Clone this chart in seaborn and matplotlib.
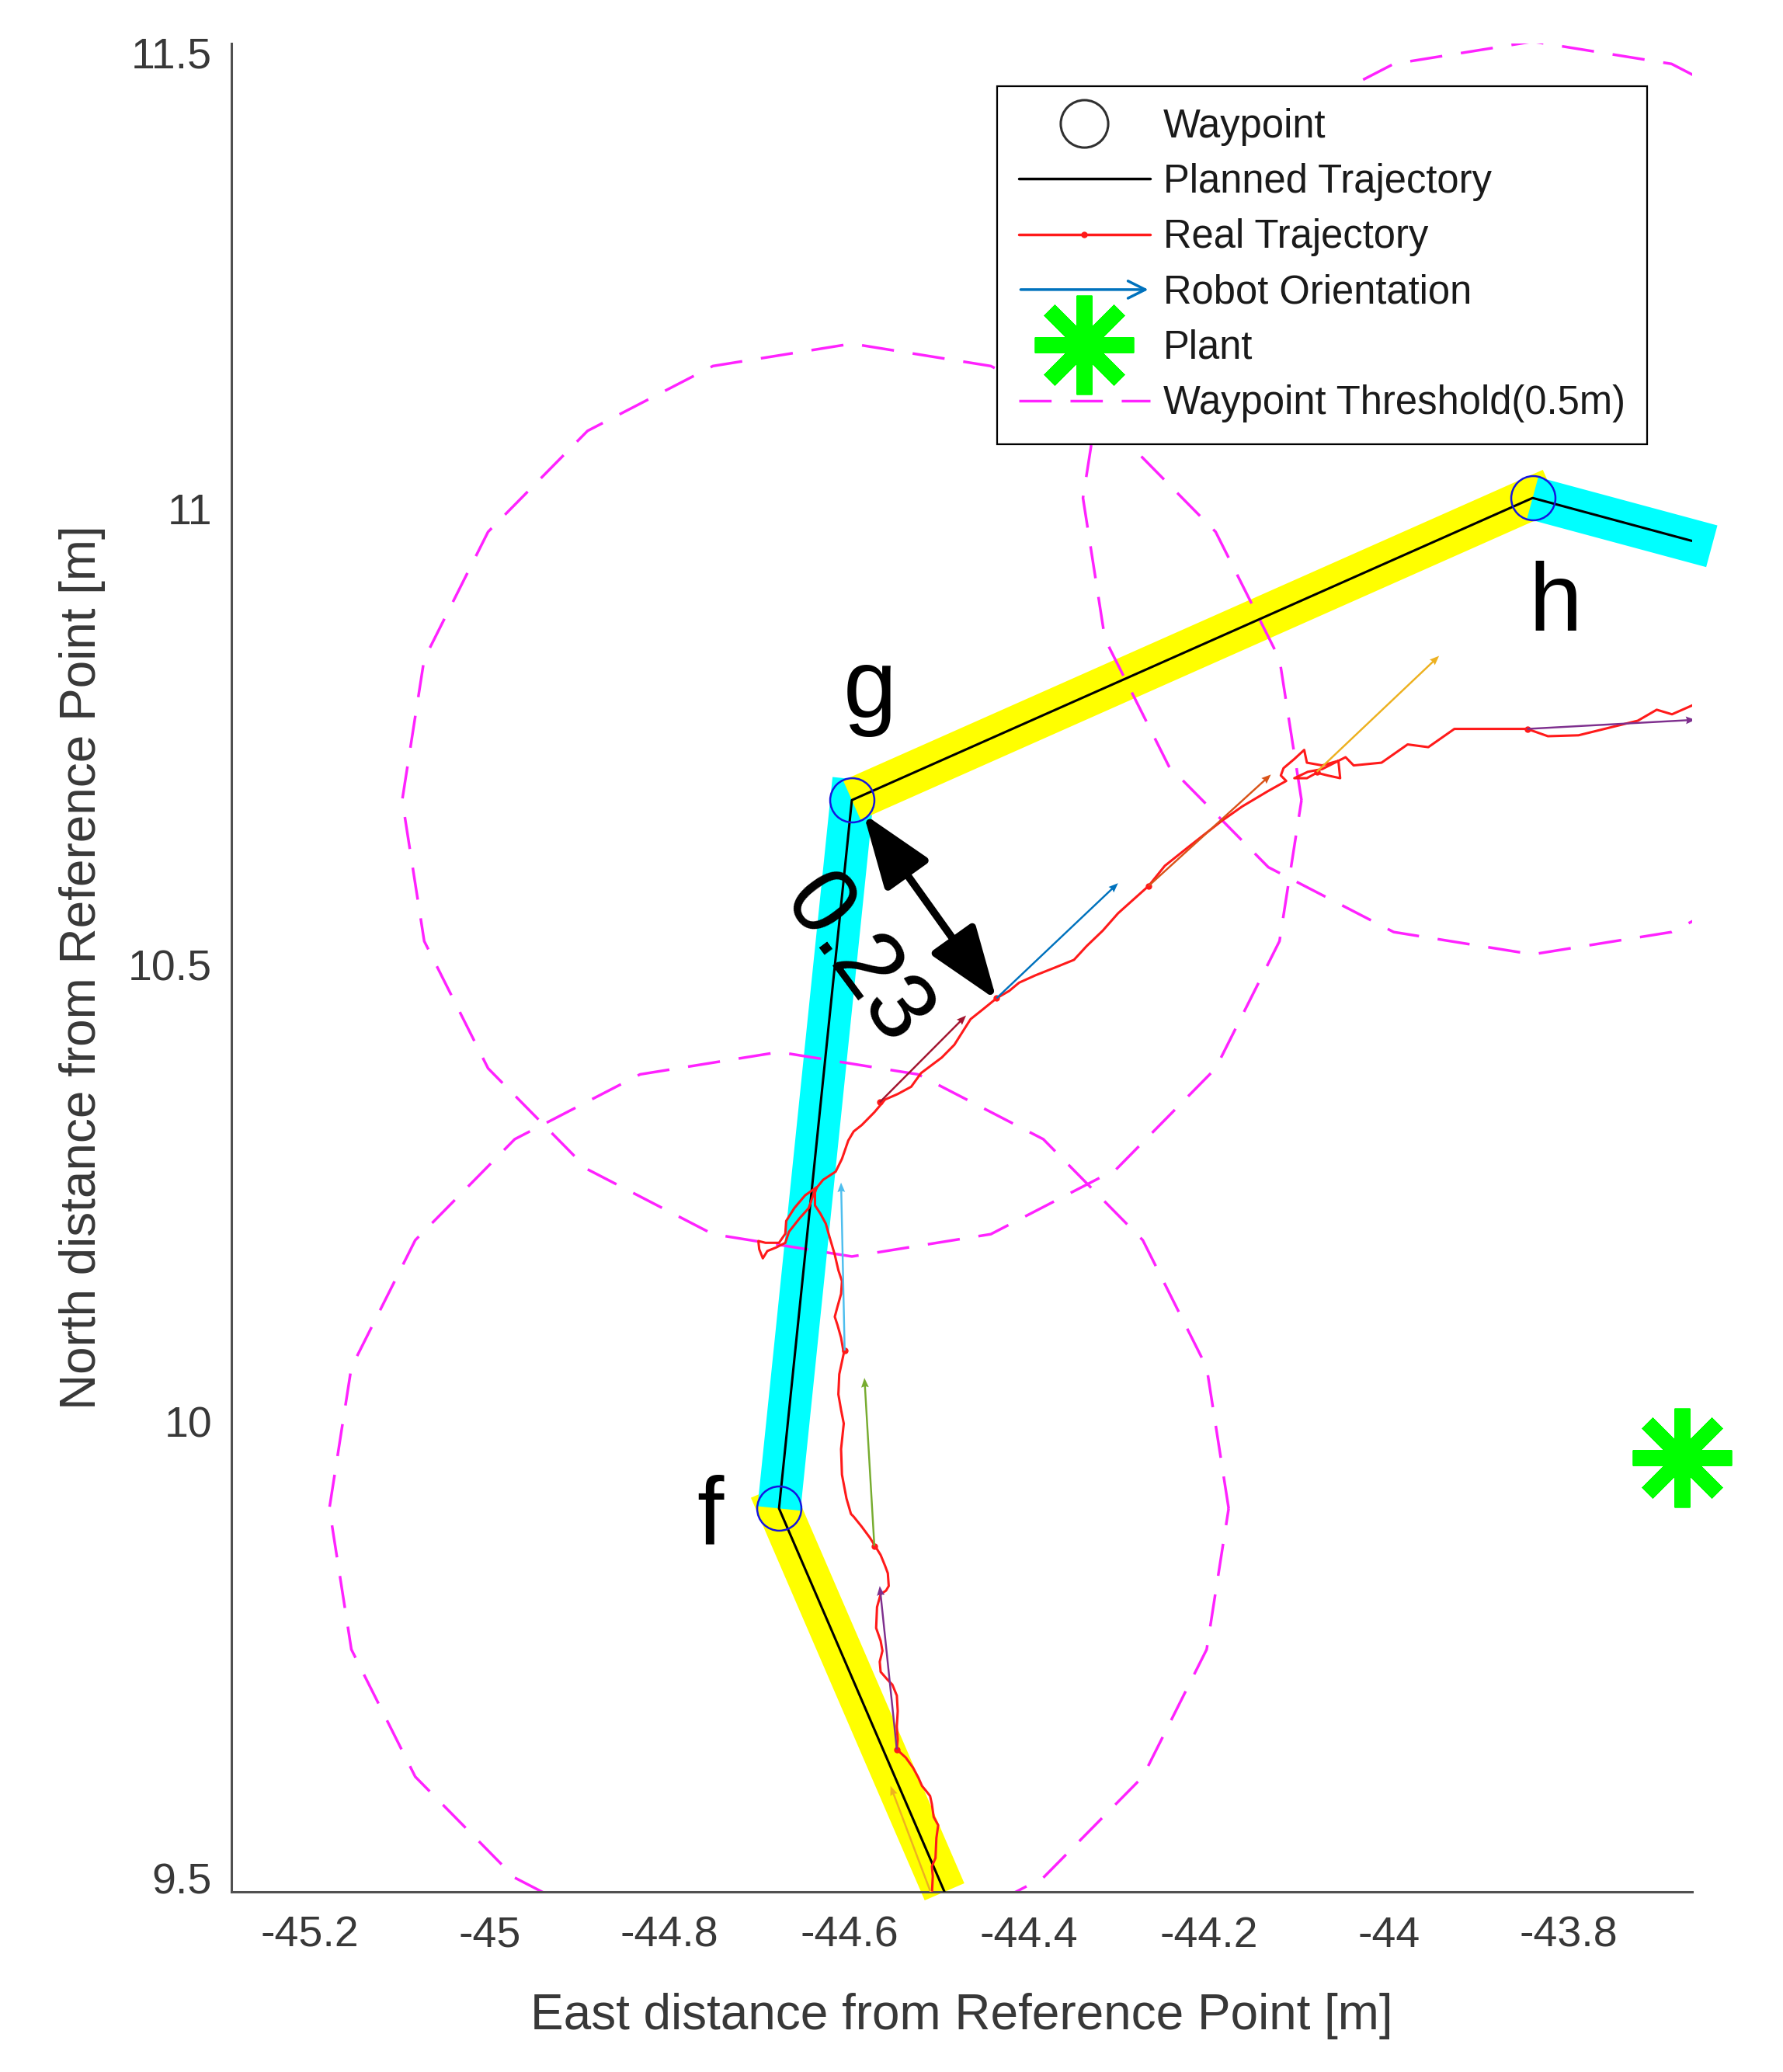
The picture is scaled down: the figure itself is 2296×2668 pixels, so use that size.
import numpy as np
import matplotlib
matplotlib.use("Agg")
import matplotlib.pyplot as plt
import seaborn as sns
from matplotlib.lines import Line2D
from matplotlib.patches import FancyArrowPatch
from matplotlib.legend_handler import HandlerPatch

# ---------------- data ----------------
# planned trajectory waypoints (e is off-axis at the bottom, i off-axis at the right)
wp_x = [-44.494, -44.678, -44.597, -43.840, -43.663]
wp_y = [9.485, 9.905, 10.681, 11.012, 10.965]
band_colors = ["#FFFF00", "#00FFFF", "#FFFF00", "#00FFFF"]
threshold_radius = 0.5

label_text = ["f", "g", "h"]
label_x = [-44.755, -44.577, -43.815]
label_y = [9.866, 10.772, 10.867]

real_x = [-44.500, -44.508, -44.507, -44.508, -44.504, -44.503, -44.501, -44.506, -44.508, -44.510,
          -44.514, -44.519, -44.523, -44.529, -44.537, -44.547, -44.546, -44.547, -44.546, -44.547,
          -44.552, -44.557, -44.565, -44.566, -44.563, -44.565, -44.570, -44.569, -44.565, -44.559,
          -44.556, -44.557, -44.560, -44.565, -44.570, -44.577, -44.586, -44.595,
          -44.598, -44.603, -44.608, -44.609, -44.606, -44.609, -44.612, -44.611, -44.606, -44.609,
          -44.613, -44.616, -44.613, -44.609, -44.608, -44.612, -44.616, -44.622, -44.626, -44.632,
          -44.638, -44.638, -44.636, -44.649, -44.661, -44.670, -44.671, -44.678, -44.693, -44.701,
          -44.700, -44.696, -44.691, -44.681, -44.671, -44.667, -44.655, -44.645, -44.638, -44.629,
          -44.615, -44.608, -44.601, -44.595, -44.586,
          -44.572, -44.560, -44.546, -44.531, -44.520, -44.497, -44.483, -44.474, -44.465, -44.451,
          -44.436, -44.422, -44.411, -44.393, -44.370, -44.350, -44.336, -44.318, -44.301, -44.284,
          -44.267, -44.249, -44.221, -44.186, -44.163, -44.134, -44.114, -44.120, -44.117, -44.105,
          -44.094, -44.091, -44.074, -44.056, -44.054, -44.068, -44.080, -44.091, -44.105, -44.090,
          -44.074, -44.054, -44.048, -44.039, -44.008, -43.979, -43.956, -43.927, -43.846, -43.823,
          -43.789, -43.760, -43.723, -43.702, -43.685, -43.662]
real_y = [9.440, 9.482, 9.502, 9.513, 9.522, 9.544, 9.558, 9.567, 9.581, 9.590,
          9.595, 9.601, 9.610, 9.621, 9.632, 9.641, 9.652, 9.666, 9.683, 9.700,
          9.712, 9.717, 9.726, 9.737, 9.749, 9.760, 9.774, 9.797, 9.811, 9.815,
          9.820, 9.834, 9.842, 9.854, 9.862, 9.873, 9.885, 9.896,
          9.899, 9.916, 9.942, 9.970, 9.998, 10.013, 10.030, 10.052, 10.075, 10.092,
          10.106, 10.115, 10.126, 10.140, 10.154, 10.166, 10.183, 10.203, 10.217, 10.228,
          10.237, 10.251, 10.257, 10.248, 10.234, 10.220, 10.206, 10.196, 10.196, 10.198,
          10.189, 10.179, 10.187, 10.191, 10.196, 10.208, 10.223, 10.234, 10.254, 10.265,
          10.274, 10.288, 10.308, 10.318, 10.325,
          10.339, 10.353, 10.359, 10.367, 10.382, 10.399, 10.413, 10.427, 10.441, 10.452,
          10.464, 10.472, 10.481, 10.489, 10.498, 10.506, 10.521, 10.538, 10.557, 10.572,
          10.587, 10.609, 10.631, 10.658, 10.674, 10.691, 10.702, 10.708, 10.716, 10.726,
          10.736, 10.722, 10.719, 10.724, 10.705, 10.708, 10.711, 10.705, 10.705, 10.712,
          10.715, 10.725, 10.728, 10.719, 10.722, 10.742, 10.739, 10.759, 10.759, 10.751,
          10.752, 10.759, 10.768, 10.780, 10.775, 10.785]

# robot orientation arrows (base + heading vector), MATLAB default colour order
arrow_x = [-44.488, -44.547, -44.572, -44.605, -44.566, -44.436, -44.267, -44.080, -43.846]
arrow_y = [9.429, 9.641, 9.864, 10.078, 10.350, 10.464, 10.587, 10.712, 10.759]
arrow_u = [-0.066, -0.019, -0.011, -0.004, 0.096, 0.135, 0.136, 0.136, 0.187]
arrow_v = [0.172, 0.179, 0.184, 0.184, 0.095, 0.126, 0.122, 0.127, 0.010]
arrow_colors = ["#EDB120", "#7E2F8E", "#77AC30", "#4DBEEE", "#A2142F",
                "#0072BD", "#D95319", "#EDB120", "#7E2F8E"]

plant_x = [-43.674]
plant_y = [9.961]

dist_start = (-44.584, 10.666)
dist_end = (-44.436, 10.462)
dist_text = "0.23"
dist_text_pos = (-44.593, 10.505)

x_ticks = [-45.2, -45.0, -44.8, -44.6, -44.4, -44.2, -44.0, -43.8]
x_ticklabels = ["-45.2", "-45", "-44.8", "-44.6", "-44.4", "-44.2", "-44", "-43.8"]
y_ticks = [9.5, 10.0, 10.5, 11.0, 11.5]
y_ticklabels = ["9.5", "10", "10.5", "11", "11.5"]

legend_labels = ["Waypoint", "Planned Trajectory", "Real Trajectory",
                 "Robot Orientation", "Plant", "Waypoint Threshold(0.5m)"]

# ---------------- style ----------------
sns.set_style("white")
plt.rcParams["font.family"] = ["Liberation Sans", "DejaVu Sans"]
plt.rcParams["axes.unicode_minus"] = False

RED = "#FF1A1A"
MAG = "#FF22FF"
DASH = (0, (12, 7))
GRAY = "#505050"
TXT = "#383838"

fig = plt.figure(figsize=(22.96, 26.68), dpi=100)
ax = fig.add_axes([0.12975, 0.08696, 0.8191, 0.8921])
ax.set_xlim(-45.287, -43.663)
ax.set_ylim(9.485, 11.51)

# highlight bands along planned segments
ext = 0.023
for k in range(len(wp_x) - 1):
    x0, y0, x1, y1 = wp_x[k], wp_y[k], wp_x[k + 1], wp_y[k + 1]
    d = np.hypot(x1 - x0, y1 - y0)
    ex, ey = (x1 - x0) / d * ext, (y1 - y0) / d * ext
    ax.plot([x0, x1 + ex], [y0, y1 + ey], color=band_colors[k], lw=40,
            solid_capstyle="butt", zorder=1, clip_on=False)

# waypoint threshold circles (polygonal, 20 segments)
theta = np.linspace(0, 2 * np.pi, 21)
for cx, cy in zip(wp_x[1:4], wp_y[1:4]):
    ax.plot(cx + threshold_radius * np.cos(theta), cy + threshold_radius * np.sin(theta),
            color=MAG, lw=2.5, ls=DASH, zorder=2)

# planned trajectory
sns.lineplot(x=wp_x, y=wp_y, sort=False, estimator=None, color="black", lw=2.2,
             ax=ax, zorder=3)

# real trajectory
sns.lineplot(x=real_x, y=real_y, sort=False, estimator=None, color=RED, lw=2.2,
             ax=ax, zorder=4)
ax.plot(arrow_x, arrow_y, ls="none", marker="o", ms=5, color=RED, zorder=4.5)

# robot orientation arrows
ax.quiver(arrow_x, arrow_y, arrow_u, arrow_v, color=arrow_colors, angles="xy",
          scale_units="xy", scale=1, width=0.0013, headwidth=4, headlength=5,
          headaxislength=4.5, zorder=5)

# waypoints
ax.plot(wp_x[1:4], wp_y[1:4], ls="none", marker="o", ms=41, mfc="none",
        mec="#1515E0", mew=1.8, zorder=6)

for t, x, y in zip(label_text, label_x, label_y):
    ax.text(x, y, t, fontsize=89, ha="center", va="baseline", color="black", zorder=7)

# distance annotation
ax.annotate("", xy=dist_end, xytext=dist_start,
            arrowprops=dict(arrowstyle="<|-|>,head_length=58,head_width=21",
                            mutation_scale=1, lw=7, color="black",
                            shrinkA=0, shrinkB=0), zorder=7)
ax.text(dist_text_pos[0], dist_text_pos[1], dist_text, fontsize=88, rotation=-53.4,
        rotation_mode="anchor", ha="center", va="center", color="black", zorder=7)

# plant
ax.plot(plant_x, plant_y, ls="none", marker=(8, 2, 0), ms=92, mew=14.4,
        color="#00FF00", clip_on=False, zorder=7)

# axes styling
for s in ["top", "right"]:
    ax.spines[s].set_visible(False)
for s in ["left", "bottom"]:
    ax.spines[s].set_color(GRAY)
    ax.spines[s].set_linewidth(2.2)
ax.set_xticks(x_ticks, labels=x_ticklabels)
ax.set_yticks(y_ticks, labels=y_ticklabels)
ax.tick_params(direction="in", length=16, width=1.6, colors=GRAY, labelcolor=TXT,
               labelsize=40)
ax.tick_params(axis="x", pad=22)
ax.tick_params(axis="y", pad=18)
ax.set_xlabel("East distance from Reference Point [m]", fontsize=46, color=TXT, va="center")
ax.set_ylabel("North distance from Reference Point [m]", fontsize=46, color=TXT, va="center")
ax.xaxis.set_label_coords(0.5, -0.0672)
ax.yaxis.set_label_coords(-0.1023, 0.5)


# legend
def make_arrow(legend, orig_handle, xdescent, ydescent, width, height, fontsize):
    return FancyArrowPatch((-xdescent, -ydescent + height / 2),
                           (-xdescent + width, -ydescent + height / 2),
                           arrowstyle="->", mutation_scale=40)


h_wp = Line2D([], [], ls="none", marker="o", ms=44, mfc="none", mec="#303030", mew=2.2)
h_plan = Line2D([], [], color="black", lw=2.5)
h_real = Line2D([], [], color=RED, lw=2.5, marker="o", ms=5)
h_arrow = FancyArrowPatch((0, 0), (1, 0), arrowstyle="->", mutation_scale=40,
                          lw=2.5, color="#0072BD")
h_plant = Line2D([], [], ls="none", marker=(8, 2, 0), ms=92, mew=14.4, color="#00FF00")
h_thr = Line2D([], [], color=MAG, lw=2.5, ls=DASH)

leg = ax.legend([h_wp, h_plan, h_real, h_arrow, h_plant, h_thr], legend_labels,
                loc="upper right", bbox_to_anchor=(0.9694, 0.9769), borderaxespad=0,
                fontsize=36.5, handlelength=3.35, handletextpad=0.33, borderpad=0.55,
                labelspacing=0.44, frameon=True, fancybox=False, framealpha=1,
                edgecolor="black",
                handler_map={FancyArrowPatch: HandlerPatch(patch_func=make_arrow)})
leg.get_frame().set_linewidth(1.6)
leg.set_zorder(20)
for t in leg.get_texts():
    t.set_color("#1a1a1a")

fig.savefig("out.png", dpi=100, facecolor="white")
